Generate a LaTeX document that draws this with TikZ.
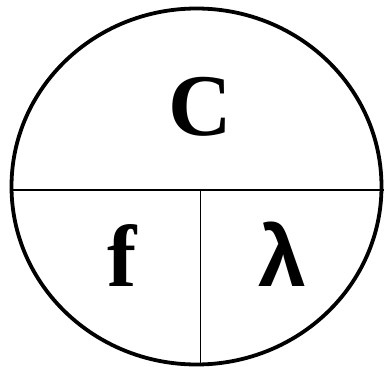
\documentclass[tikz,border=0pt]{standalone}
\usepackage{fontspec}
\setmainfont{Liberation Serif}
\newfontfamily\lamfont{Liberation Sans}
\begin{document}
\begin{tikzpicture}[x=1pt,y=-1pt,
  outer/.style={line width=3.8pt},
  divider/.style={line width=1.8pt},
  bigletter/.style={font=\fontsize{88}{88}\selectfont\bfseries, inner sep=0pt, anchor=base}]
\useasboundingbox (0,0) rectangle (384,367);
\begin{scope}
\clip (0,0) rectangle (384,367);
\draw[outer] (196.5,186.5) ellipse [x radius=185, y radius=178];
\coordinate (hl) at (12,190);
\coordinate (hr) at (386,190);
\coordinate (vt) at (200.5,190);
\coordinate (vb) at (200.5,364);
\draw[divider] (hl) -- (hr);
\draw[divider] (vt) -- (vb);
\end{scope}
\node[bigletter] (c) at (200.5,135) {C};
\node[bigletter] (f) at (122,286) {f};
\node[bigletter, font=\fontsize{86}{86}\selectfont\lamfont\bfseries] (lam) at (282.5,286) {λ};
\end{tikzpicture}
\end{document}
